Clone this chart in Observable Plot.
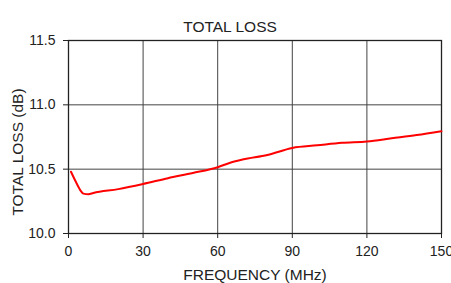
<!DOCTYPE html>
<html><head><meta charset="utf-8">
<script src="https://cdn.jsdelivr.net/npm/d3@7"></script>
<script src="https://cdn.jsdelivr.net/npm/@observablehq/plot@0.6"></script>
<style>body{margin:0;background:#fff;font-family:"Liberation Sans",Arial,sans-serif}</style>
</head><body><div id="chart"></div>
<script>
const freq = [1, 3, 5, 6, 8, 10, 20, 30, 40, 50, 60, 65, 70, 80, 90, 100, 110, 120, 130, 140, 150];
const loss = [10.48, 10.40, 10.33, 10.31, 10.305, 10.315, 10.345, 10.385, 10.43, 10.47, 10.515, 10.55, 10.575, 10.61, 10.665, 10.685, 10.705, 10.715, 10.74, 10.765, 10.795];
const xTicks = [0, 30, 60, 90, 120, 150];
const yTicks = [10.0, 10.5, 11.0, 11.5];
const data = freq.map((f, i) => ({f, v: loss[i]}));

const chart = Plot.plot({
  width: 451, height: 283,
  marginLeft: 68, marginRight: 10, marginTop: 40, marginBottom: 50,
  style: {fontFamily: "Liberation Sans, Arial, sans-serif", fontSize: "14px", color: "#222", overflow: "visible"},
  x: {domain: [0, 150]},
  y: {domain: [10, 11.5]},
  marks: [
    Plot.gridX(xTicks.slice(1, -1), {stroke: "#444", strokeOpacity: 1, strokeWidth: 1}),
    Plot.gridY(yTicks.slice(1, -1), {stroke: "#444", strokeOpacity: 1, strokeWidth: 1}),
    Plot.frame({stroke: "#222", strokeWidth: 1.3}),
    Plot.axisX({ticks: xTicks, tickSize: 5, tickPadding: 8, label: null, fontSize: 14}),
    Plot.axisY({ticks: yTicks, tickSize: 5, tickPadding: 8, tickFormat: d3.format(".1f"), label: null, fontSize: 14}),
    Plot.text(["TOTAL LOSS (dB)"], {frameAnchor: "left", textAnchor: "middle", dx: -50, dy: 15, rotate: -90, fontSize: 15.5, fill: "#222"}),
    Plot.text(["FREQUENCY (MHz)"], {frameAnchor: "bottom", textAnchor: "middle", dy: 46, fontSize: 15.5, fill: "#222"}),
    Plot.line(data, {x: "f", y: "v", stroke: "#f00", strokeWidth: 2, curve: "monotone-x"}),
    Plot.text(["TOTAL LOSS"], {frameAnchor: "top", dy: -20, dx: -25, fontSize: 15.5, fill: "#222"})
  ]
});
document.getElementById("chart").appendChild(chart);
</script></body></html>
